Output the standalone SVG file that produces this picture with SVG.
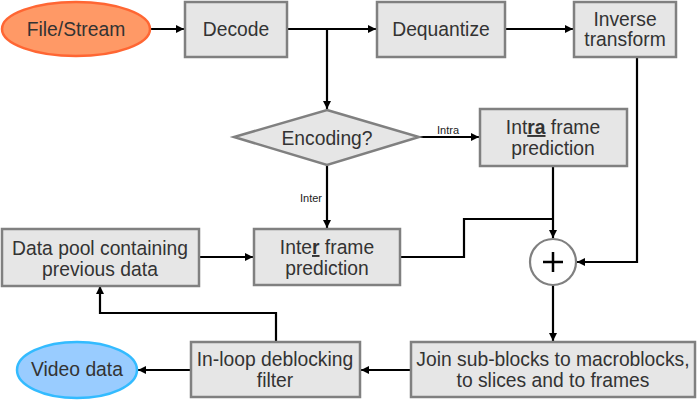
<svg xmlns="http://www.w3.org/2000/svg" width="700" height="412" viewBox="0 0 700 412">
<defs>
<marker id="ah" viewBox="0 0 10 10" refX="10" refY="5" markerWidth="10" markerHeight="8" markerUnits="userSpaceOnUse" orient="auto">
<path d="M0,0 L10,5 L0,10 z" fill="#000"/>
</marker>
<style>
.box{fill:#e6e6e6;stroke:#808080;stroke-width:2.5}
.t{font-family:"Liberation Sans",Arial,sans-serif;font-size:19.3px;fill:#333;text-anchor:middle}
.s{font-family:"Liberation Sans",Arial,sans-serif;font-size:11px;fill:#222}
.c{fill:none;stroke:#000;stroke-width:2.2}
.a{marker-end:url(#ah)}
</style>
</defs>
<rect width="700" height="412" fill="#fff"/>
<g id="connectors">
<path class="c a" d="M150,29 H184"/>
<path class="c a" d="M287,29 H376"/>
<path class="c a" d="M327,29 V109"/>
<path class="c a" d="M505,29 H573"/>
<path class="c a" d="M419,137 H479"/>
<text class="s" x="437" y="134">Intra</text>
<path class="c a" d="M327,165 V228"/>
<text class="s" x="322" y="202" text-anchor="end">Inter</text>
<path class="c a" d="M553,166 V238"/>
<path class="c" d="M400,257 H464 V219 H553"/>
<path class="c a" d="M637,57 V262 H577"/>
<path class="c a" d="M553,285 V341"/>
<path class="c a" d="M411,370 H361"/>
<path class="c a" d="M191,370 H138"/>
<path class="c a" d="M276,342 V313 H100 V286"/>
<path class="c a" d="M199,257 H253"/>
</g>
<g id="file-stream">
<ellipse cx="76" cy="29" rx="74" ry="27" fill="#ff9966" stroke="#ff6633" stroke-width="2.5"/>
<text class="t" x="76" y="36">File/Stream</text>
</g>
<g id="decode">
<rect class="box" x="185" y="2" width="102" height="55"/>
<text class="t" x="236" y="36">Decode</text>
</g>
<g id="dequantize">
<rect class="box" x="377" y="2" width="128" height="55"/>
<text class="t" x="441" y="36">Dequantize</text>
</g>
<g id="inverse-transform">
<rect class="box" x="574" y="2" width="102" height="55"/>
<text class="t" x="625" y="26">Inverse</text>
<text class="t" x="625" y="46">transform</text>
</g>
<g id="encoding">
<polygon points="327,110 419,137 327,165 234,137" fill="#e6e6e6" stroke="#808080" stroke-width="2.5"/>
<text class="t" x="327" y="145">Encoding?</text>
</g>
<g id="intra">
<rect class="box" x="480" y="109" width="147" height="57"/>
<text class="t" x="553" y="134">Int<tspan font-weight="bold" text-decoration="underline">ra</tspan> frame</text>
<text class="t" x="553" y="155">prediction</text>
</g>
<g id="data-pool">
<rect class="box" x="2" y="229" width="197" height="57"/>
<text class="t" x="100" y="255">Data pool containing</text>
<text class="t" x="100" y="276">previous data</text>
</g>
<g id="inter">
<rect class="box" x="254" y="229" width="146" height="56"/>
<text class="t" x="327" y="254">Inte<tspan font-weight="bold" text-decoration="underline">r</tspan> frame</text>
<text class="t" x="327" y="275">prediction</text>
</g>
<g id="sum">
<circle cx="553" cy="262" r="23" fill="#fff" stroke="#808080" stroke-width="2.2"/>
<path d="M543,262 H563 M553,252 V272" stroke="#000" stroke-width="2.5"/>
</g>
<g id="join">
<rect class="box" x="411" y="342" width="284" height="55"/>
<text class="t" x="553" y="366">Join sub-blocks to macroblocks,</text>
<text class="t" x="553" y="387">to slices and to frames</text>
</g>
<g id="deblocking">
<rect class="box" x="191" y="342" width="169" height="55"/>
<text class="t" x="275" y="366">In-loop deblocking</text>
<text class="t" x="275" y="387">filter</text>
</g>
<g id="video-data">
<ellipse cx="77" cy="370" rx="60" ry="28" fill="#99ccff" stroke="#33bbff" stroke-width="2.5"/>
<text class="t" x="77" y="376">Video data</text>
</g>
</svg>
